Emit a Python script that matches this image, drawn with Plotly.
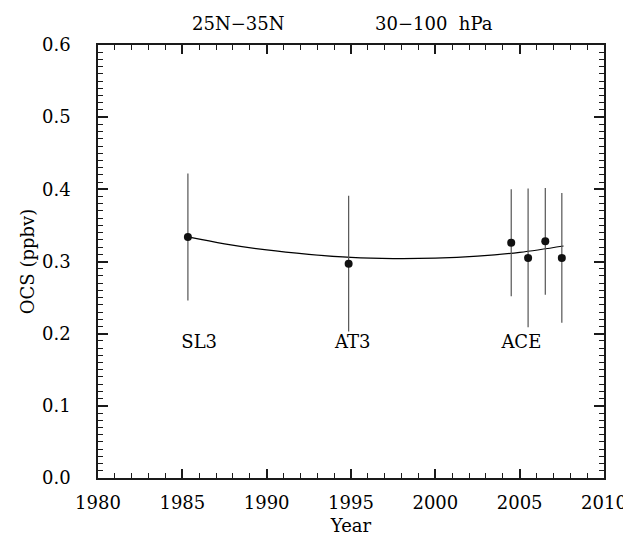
import plotly.graph_objects as go

# OCS measurements, 25N-35N, 30-100 hPa
years = [1985.33, 1994.86, 2004.5, 2005.5, 2006.52, 2007.5]
ocs = [0.334, 0.297, 0.326, 0.305, 0.328, 0.305]
ocs_err = [0.088, 0.094, 0.074, 0.096, 0.074, 0.090]

# fitted trend curve
fit_years = [1985.33, 1987.5, 1990, 1992.5, 1995, 1997.5, 2000, 2002.5, 2005, 2007.6]
fit_ocs = [0.334, 0.3245, 0.316, 0.3100, 0.3057, 0.3041, 0.3047, 0.3075, 0.3127, 0.3215]

# instrument labels
label_names = ["SL3", "AT3", "ACE"]
label_years = [1986.0, 1995.1, 2005.1]
label_ocs = [0.187, 0.187, 0.187]

FONT = "DejaVu Serif"
AXIS_COL = "#1a1a1a"
TXT = dict(family=FONT, size=18, color="#000000")

fig = go.Figure()

fig.add_trace(go.Scatter(
    x=fit_years, y=fit_ocs, mode="lines", line_shape="spline",
    line=dict(color="black", width=1.2), hoverinfo="skip"))

fig.add_trace(go.Scatter(
    x=years, y=ocs, mode="markers",
    marker=dict(color="#111111", size=8),
    error_y=dict(type="data", array=ocs_err, visible=True,
                 color="#555555", thickness=1.2, width=0)))

fig.add_trace(go.Scatter(
    x=label_years, y=label_ocs, mode="text", text=label_names,
    textposition="middle center", textfont=TXT))

# panel title
fig.add_annotation(x=1988.3, y=1.0, xref="x", yref="paper", yshift=34,
                   text="25N\u221235N", showarrow=False, font=TXT)
fig.add_annotation(x=1999.9, y=1.0, xref="x", yref="paper", yshift=34,
                   text="30\u2212100  hPa", showarrow=False, font=TXT)

fig.update_xaxes(
    range=[1980, 2010], tickmode="linear", tick0=1980, dtick=5,
    ticks="inside", ticklen=9, tickwidth=1.5, tickcolor=AXIS_COL,
    minor=dict(tickmode="linear", tick0=1980, dtick=1, ticklen=5, ticks="inside",
               tickcolor=AXIS_COL, tickwidth=1.2),
    showline=True, linecolor=AXIS_COL, linewidth=1.5, mirror="allticks",
    showgrid=False, zeroline=False, tickfont=TXT,
    title=dict(text="Year", font=TXT, standoff=7),
    ticklabelstandoff=8)
fig.update_yaxes(
    range=[0, 0.6], tickmode="linear", tick0=0, dtick=0.1, tickformat=".1f",
    ticks="inside", ticklen=10, tickwidth=1.5, tickcolor=AXIS_COL,
    minor=dict(tickmode="linear", tick0=0, dtick=0.01, ticklen=5, ticks="inside",
               tickcolor=AXIS_COL, tickwidth=1.2),
    showline=True, linecolor=AXIS_COL, linewidth=1.5, mirror="allticks",
    showgrid=False, zeroline=False, tickfont=TXT,
    title=dict(text="OCS (ppbv)", font=TXT, standoff=3),
    ticklabelstandoff=22)

# page body adds an 8px offset, margins compensate for it
fig.update_layout(
    width=631, height=535,
    margin=dict(l=90, r=35, t=37, b=65, autoexpand=False),
    paper_bgcolor="white", plot_bgcolor="white",
    showlegend=False,
)

fig.write_html("out.html")
